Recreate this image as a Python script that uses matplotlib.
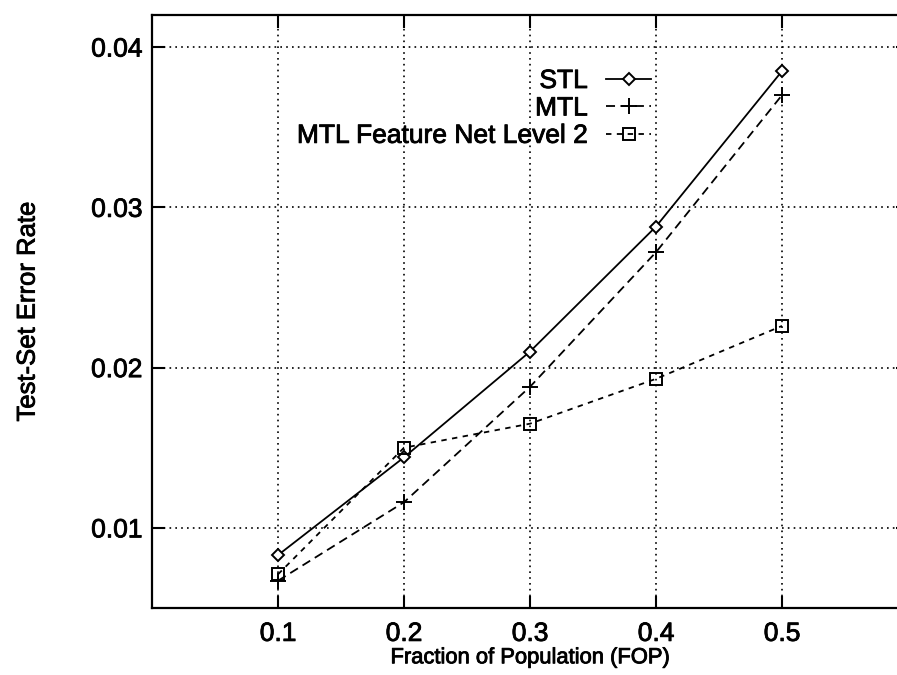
import matplotlib
matplotlib.use("Agg")
import matplotlib.pyplot as plt
import matplotlib.patheffects as pe

plt.rcParams['font.family'] = ['Liberation Sans', 'DejaVu Sans']

fop = [0.1, 0.2, 0.3, 0.4, 0.5]
stl = [0.0083, 0.0144, 0.0210, 0.0288, 0.0385]
mtl = [0.0067, 0.0116, 0.0188, 0.0272, 0.0370]
mtl_fn = [0.0071, 0.0150, 0.0165, 0.0193, 0.0226]
xticks = [0.1, 0.2, 0.3, 0.4, 0.5]
yticks = [0.01, 0.02, 0.03, 0.04]
xtick_labels = ["0.1", "0.2", "0.3", "0.4", "0.5"]
ytick_labels = ["0.01", "0.02", "0.03", "0.04"]

fig = plt.figure(figsize=(8.97, 6.75), dpi=100)
ax = fig.add_axes([152/897, 1-608/675, (908-152)/897, (608-15)/675])

ax.plot(fop, stl, color='black', lw=1.3, ls='-', marker='D', ms=6.5,
        mfc='white', mec='black', mew=1.4, label='STL')
ax.plot(fop, mtl, color='black', lw=1.3, ls=(0, (5, 3)), marker='+', ms=11,
        mew=1.4, label='MTL')
ax.plot(fop, mtl_fn, color='black', lw=1.3, ls=(0, (3, 3)), marker='s', ms=9,
        mfc='none', mec='black', mew=1.4, label='MTL Feature Net Level 2')

ax.set_xlim(0, 0.6)
ax.set_ylim(0.005, 0.042)
ax.set_xticks(xticks)
ax.set_xticklabels(xtick_labels)
ax.set_yticks(yticks)
ax.set_yticklabels(ytick_labels)
ax.grid(True, color='black', ls=(0, (1, 2.5)), lw=1.2)
ax.tick_params(direction='in', length=9, width=1.5, top=True, right=True,
               labelsize=19)
ax.tick_params(axis='x', pad=10)
ax.tick_params(axis='y', pad=7)
for s in ax.spines.values():
    s.set_linewidth(1.6)

ax.set_xlabel('Fraction of Population (FOP)', fontsize=15.8, labelpad=1)
ax.set_ylabel('Test-Set Error Rate', fontsize=18.5, labelpad=37)

leg = ax.legend(loc='upper right', bbox_to_anchor=(651/897, 1-69/675),
                bbox_transform=fig.transFigure, frameon=False, markerfirst=False,
                fontsize=19, handlelength=1.7, handletextpad=0.7,
                labelspacing=0.13, borderpad=0, borderaxespad=0)

stroke = [pe.withStroke(linewidth=0.6, foreground='black')]
texts = ax.get_xticklabels() + ax.get_yticklabels() + leg.get_texts() + \
    [ax.xaxis.label, ax.yaxis.label]
for t in texts:
    t.set_path_effects(stroke)

fig.savefig('out.png', dpi=100)
